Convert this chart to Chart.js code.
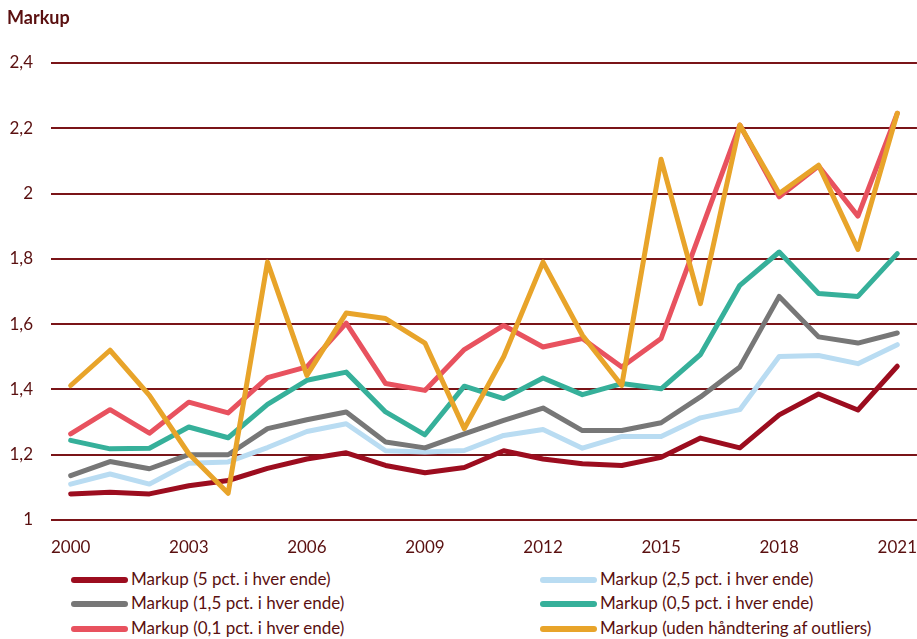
<!DOCTYPE html>
<html>
<head>
<meta charset="utf-8">
<script src="https://cdn.jsdelivr.net/npm/chart.js@4"></script>
<style>
  body { margin: 0; background: #fff; font-family: Lato, "Open Sans", sans-serif; }
  #wrap { position: relative; width: 917px; height: 639px; overflow: hidden; }
  #title { position: absolute; left: 7px; top: 6px; font-weight: bold; font-size: 18px; color: #5a1010; }
  #chartBox { position: absolute; left: 0; top: 0; width: 917px; height: 565px; }
  .leg { position: absolute; font-size: 17px; color: #5a1010; white-space: nowrap; height: 22px; line-height: 22px; }
  .leg span.line { display: inline-block; width: 57px; height: 6px; border-radius: 3px; vertical-align: middle; margin-right: 3px; position: relative; top: -1px; }
</style>
</head>
<body>
<div id="wrap">
  <div id="chartBox"><canvas id="chart"></canvas></div>
  <div id="title">Markup</div>
  <div id="legend"></div>
</div>
<script>
const years = ['2000','2001','2002','2003','2004','2005','2006','2007','2008','2009','2010',
  '2011','2012','2013','2014','2015','2016','2017','2018','2019','2020','2021'];

const markup5 = [1.080, 1.085, 1.080, 1.105, 1.121, 1.158, 1.187, 1.206, 1.167, 1.145, 1.161,
  1.212, 1.187, 1.172, 1.167, 1.192, 1.251, 1.221, 1.322, 1.386, 1.337, 1.471];
const markup25 = [1.110, 1.141, 1.110, 1.174, 1.178, 1.222, 1.271, 1.295, 1.212, 1.208, 1.213,
  1.259, 1.277, 1.220, 1.256, 1.256, 1.313, 1.338, 1.501, 1.504, 1.479, 1.537];
const markup15 = [1.136, 1.179, 1.157, 1.200, 1.200, 1.280, 1.307, 1.331, 1.239, 1.221, 1.264,
  1.305, 1.343, 1.274, 1.274, 1.298, 1.377, 1.469, 1.685, 1.561, 1.542, 1.573];
const markup05 = [1.244, 1.218, 1.220, 1.285, 1.252, 1.354, 1.428, 1.453, 1.331, 1.261, 1.410,
  1.372, 1.435, 1.384, 1.418, 1.402, 1.507, 1.719, 1.821, 1.694, 1.685, 1.816];
const markup01 = [1.264, 1.338, 1.266, 1.361, 1.328, 1.436, 1.469, 1.603, 1.418, 1.397, 1.522,
  1.596, 1.530, 1.556, 1.469, 1.556, 1.883, 2.210, 1.990, 2.084, 1.931, 2.246];
const markupRaw = [1.412, 1.520, 1.382, 1.203, 1.082, 1.790, 1.443, 1.634, 1.617, 1.542, 1.280,
  1.500, 1.790, 1.566, 1.412, 2.105, 1.663, 2.210, 2.000, 2.087, 1.829, 2.246];

const seriesNames = [
  'Markup (5 pct. i hver ende)',
  'Markup (2,5 pct. i hver ende)',
  'Markup (1,5 pct. i hver ende)',
  'Markup (0,5 pct. i hver ende)',
  'Markup (0,1 pct. i hver ende)',
  'Markup (uden håndtering af outliers)'
];
const seriesData = [markup5, markup25, markup15, markup05, markup01, markupRaw];
const colors = ['#9c0d1f', '#b9dcf2', '#777777', '#36b09a', '#e8525f', '#e8a42a'];

const textColor = '#5a1010';
const gridColor = '#7a1418';

const datasets = seriesData.map((d, i) => ({
  label: seriesNames[i],
  data: d,
  borderColor: colors[i],
  backgroundColor: colors[i],
  borderWidth: 5,
  pointRadius: 0,
  tension: 0,
  fill: false,
  borderJoinStyle: 'round',
  borderCapStyle: 'round',
  order: 6 - i   // later series drawn on top
}));

new Chart(document.getElementById('chart'), {
  type: 'line',
  data: { labels: years, datasets: datasets },
  options: {
    responsive: true,
    maintainAspectRatio: false,
    animation: false,
    layout: { padding: { top: 63, right: 0, bottom: 0, left: 0 } },
    plugins: {
      legend: { display: false },
      tooltip: { enabled: false }
    },
    scales: {
      x: {
        offset: true,
        // tickLength gives the gap below the plot without adding side padding
        grid: { display: false, drawTicks: true, tickLength: 17 },
        border: { display: false },
        ticks: {
          autoSkip: false,
          maxRotation: 0,
          padding: 0,
          color: textColor,
          font: { family: 'Lato', size: 17 },
          callback: function (val, idx) { return idx % 3 === 0 ? years[idx] : ''; }
        },
        afterFit: function (scale) { scale.height = 45; }
      },
      y: {
        min: 1,
        max: 2.4,
        grid: { color: gridColor, lineWidth: 2, drawTicks: false },
        border: { display: false },
        ticks: {
          stepSize: 0.2,
          padding: 18,
          color: textColor,
          font: { family: 'Lato', size: 17 },
          callback: function (v) { return String(Math.round(v * 10) / 10).replace('.', ','); }
        },
        afterFit: function (scale) { scale.width = 51; }
      }
    }
  }
});

// legend in two columns like the original
const legendPos = [
  { left: 71, top: 568 }, { left: 540, top: 568 },
  { left: 71, top: 592 }, { left: 540, top: 592 },
  { left: 71, top: 617 }, { left: 540, top: 617 }
];
const legendEl = document.getElementById('legend');
seriesNames.forEach((name, k) => {
  const div = document.createElement('div');
  div.className = 'leg';
  div.style.left = legendPos[k].left + 'px';
  div.style.top = legendPos[k].top + 'px';
  const line = document.createElement('span');
  line.className = 'line';
  line.style.background = colors[k];
  div.appendChild(line);
  div.appendChild(document.createTextNode(name));
  legendEl.appendChild(div);
});
</script>
</body>
</html>
